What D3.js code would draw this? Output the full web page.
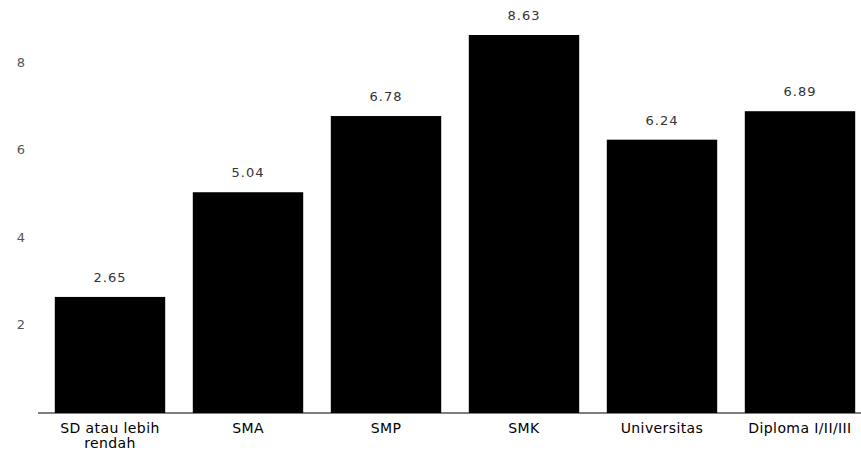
<!DOCTYPE html>
<html>
<head>
<meta charset="utf-8">
<script src="https://cdn.jsdelivr.net/npm/d3@7"></script>
<style>
  body { margin: 0; background: #fff; }
  text { font-family: "DejaVu Sans", sans-serif; }
</style>
</head>
<body>
<svg id="chart" width="861" height="450"></svg>
<script>
// data
const categories = ["SD atau lebih rendah", "SMA", "SMP", "SMK", "Universitas", "Diploma I/II/III"];
const values = [2.65, 5.04, 6.78, 8.63, 6.24, 6.89];
const yTicks = [2, 4, 6, 8];

const svg = d3.select("#chart");
const baseY = 413;

const x = d3.scaleBand().domain(categories).range([41, 869]).paddingInner(0.2).paddingOuter(0.1);
const y = d3.scaleLinear().domain([0, 8.63]).range([baseY, 35]);

// y tick labels
svg.selectAll(".ytick").data(yTicks).enter().append("text")
  .attr("x", 25).attr("y", d => y(d) + 4)
  .attr("text-anchor", "end")
  .attr("font-size", 13).attr("fill", "#555")
  .text(d => d);

// bars
svg.selectAll(".bar").data(values).enter().append("rect")
  .attr("x", (d, i) => x(categories[i]))
  .attr("y", d => y(d))
  .attr("width", x.bandwidth())
  .attr("height", d => baseY - y(d))
  .attr("fill", "#000");

// value labels
svg.selectAll(".val").data(values).enter().append("text")
  .attr("x", (d, i) => x(categories[i]) + x.bandwidth() / 2)
  .attr("y", d => y(d) - 15)
  .attr("text-anchor", "middle")
  .attr("font-size", 13).attr("fill", "#333")
  .attr("letter-spacing", 1)
  .text(d => d.toFixed(2));

// baseline
svg.append("line").attr("x1", 38).attr("x2", 861).attr("y1", baseY).attr("y2", baseY)
  .attr("stroke", "#000").attr("stroke-width", 1.2);

// category labels, wrapped
const wrap = { "SD atau lebih rendah": ["SD atau lebih", "rendah"] };
categories.forEach(c => {
  const lines = wrap[c] || [c];
  const t = svg.append("text")
    .attr("x", x(c) + x.bandwidth() / 2).attr("y", 433)
    .attr("text-anchor", "middle").attr("font-size", 14).attr("fill", "#000")
    .attr("letter-spacing", 0.4);
  lines.forEach((l, i) => t.append("tspan").attr("x", x(c) + x.bandwidth() / 2).attr("dy", i ? 15 : 0).text(l));
});
</script>
</body>
</html>
